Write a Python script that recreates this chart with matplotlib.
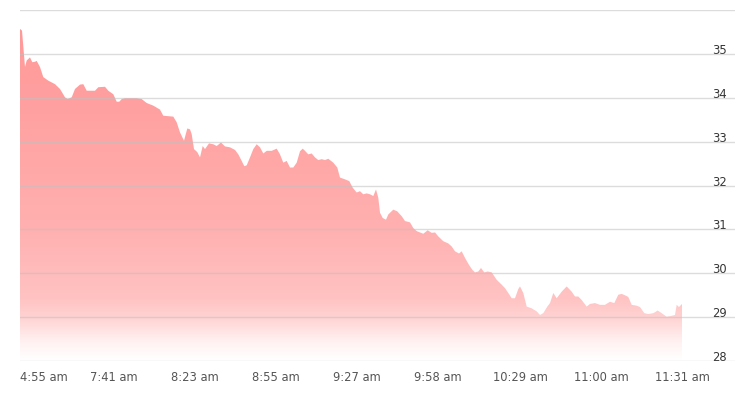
import numpy as np
import matplotlib
matplotlib.use("Agg")
import matplotlib.pyplot as plt
from matplotlib.colors import LinearSegmentedColormap

# relative session position (categorical time index) and price
t = [0, 2, 5, 6.7, 10, 12.3, 15, 16.7, 20, 23.3, 28.3, 35, 40, 45, 47.7, 51.7, 55, 60, 63.3,
     66.7, 75, 78.3, 85, 88.3, 93.3, 96.7, 99.3, 101.7, 105, 116.7, 121.7, 126.7, 133.3,
     140, 143.3, 153.3, 156.7, 160, 164, 167.3, 170, 171.7, 174, 177.3, 180, 182.7, 185,
     189, 193.3, 196.7, 201, 205, 210, 215, 218.3, 221.7, 224.3, 226.7, 230, 233.3, 236.7,
     240, 243.3, 246.7, 251.7, 256.7, 260, 263.3, 266.7, 270, 273.3, 276.7, 280, 282.7,
     285, 288.3, 291.7, 295, 298.3, 301.7, 305, 308.3, 313.3, 317.3, 320, 325, 329.3,
     332.7, 336.7, 340, 343.3, 346.7, 350, 353.3, 356, 358.3, 360, 362.7, 366, 368.3,
     373.3, 377.3, 381.7, 385, 390, 393.3, 396.7, 400, 403.3, 407.7, 411.7, 415, 418.3,
     423.3, 428.3, 431.7, 435, 439, 441.7, 445, 449, 452.3, 455, 458.3, 461, 464.3, 467.7,
     471.7, 476.7, 481.7, 485, 488.3, 491.7, 495, 498.3, 500, 503.3, 506.7, 511.7, 516.7,
     520, 523.3, 527.3, 530, 533.3, 536.7, 541.7, 546.7, 551.7, 555, 558.3, 561.7, 566.7,
     570, 575, 580, 585, 590, 594.3, 598.3, 601.7, 605.7, 608.3, 611.7, 616.7, 620, 624.3,
     628.3, 633.3, 637.7, 641.7, 646.7, 651.7, 655, 656.7, 659, 662]
price = [35.57, 35.53, 34.70, 34.85, 34.92, 34.81, 34.82, 34.84, 34.70, 34.47, 34.39, 34.31,
         34.20, 34.01, 33.97, 34.01, 34.20, 34.30, 34.31, 34.16, 34.16, 34.24, 34.25, 34.16,
         34.08, 33.91, 33.91, 33.97, 33.99, 33.99, 33.97, 33.88, 33.82, 33.73, 33.59, 33.57,
         33.44, 33.21, 33.02, 33.30, 33.28, 33.17, 32.83, 32.76, 32.64, 32.90, 32.83, 32.96,
         32.94, 32.90, 32.98, 32.89, 32.87, 32.81, 32.71, 32.56, 32.44, 32.46, 32.64, 32.83,
         32.94, 32.87, 32.73, 32.79, 32.79, 32.84, 32.71, 32.52, 32.56, 32.41, 32.41, 32.52,
         32.78, 32.84, 32.79, 32.71, 32.73, 32.64, 32.58, 32.60, 32.58, 32.61, 32.52, 32.41,
         32.18, 32.14, 32.10, 31.95, 31.84, 31.87, 31.80, 31.82, 31.80, 31.76, 31.91, 31.72,
         31.38, 31.26, 31.22, 31.34, 31.45, 31.41, 31.30, 31.19, 31.16, 31.03, 30.96, 30.93,
         30.90, 30.98, 30.92, 30.93, 30.84, 30.73, 30.68, 30.61, 30.50, 30.45, 30.50, 30.35,
         30.19, 30.08, 30.02, 30.04, 30.12, 30.02, 30.04, 30.02, 29.85, 29.74, 29.66, 29.55,
         29.43, 29.43, 29.64, 29.70, 29.55, 29.24, 29.20, 29.13, 29.05, 29.09, 29.24, 29.32,
         29.55, 29.43, 29.58, 29.70, 29.58, 29.47, 29.47, 29.39, 29.24, 29.30, 29.32, 29.28,
         29.28, 29.35, 29.32, 29.51, 29.53, 29.49, 29.46, 29.28, 29.26, 29.23, 29.09, 29.07,
         29.09, 29.15, 29.09, 29.01, 29.03, 29.05, 29.28, 29.23, 29.30]

tick_pos = [0, 94, 175, 256, 337, 418, 500, 581, 662]
tick_labels = ["4:55 am", "7:41 am", "8:23 am", "8:55 am", "9:27 am", "9:58 am",
               "10:29 am", "11:00 am", "11:31 am"]
y_ticks = [28, 29, 30, 31, 32, 33, 34, 35]
y_grid = [28, 29, 30, 31, 32, 33, 34, 35, 36]

fig = plt.figure(figsize=(7.53, 4.03), dpi=100)
ax = fig.add_axes([20 / 753, (403 - 361) / 403, 715 / 753, 351 / 403])
ax.set_xlim(0, 715)
ax.set_ylim(28, 36)

# gradient fill
poly = ax.fill_between(t, price, 28, color="none", linewidth=0)
cmap = LinearSegmentedColormap.from_list(
    "g",
    [(0.0, "#ffffff"), (0.06, "#fff0f0"), (0.13, "#ffd2d2"), (0.19, "#ffc2c2"),
     (0.40, "#ffb0b0"), (0.79, "#ff9f9f"), (1.0, "#ff9a9a")])
top = max(price)
grad = np.linspace(0, 1, 512).reshape(-1, 1)
im = ax.imshow(grad, extent=[0, max(t), 28, top], origin="lower", aspect="auto",
               cmap=cmap, zorder=1, interpolation="bilinear")
path = poly.get_paths()[0]
im.set_clip_path(path, transform=ax.transData)

for g in y_grid:
    ax.axhline(g, color="#c0c0c0", alpha=0.55, linewidth=1, zorder=3)

for s in ax.spines.values():
    s.set_visible(False)

ax.set_xticks(tick_pos)
ax.set_xticklabels(tick_labels, fontsize=8.3, color="#555555")
ax.get_xticklabels()[0].set_ha("left")
ax.tick_params(axis="x", length=0, pad=7)

ax.yaxis.tick_right()
ax.set_yticks(y_ticks)
ax.set_yticklabels([str(v) for v in y_ticks], fontsize=8.3, color="#333333")
for lab in ax.get_yticklabels():
    lab.set_ha("right")
    lab.set_va("baseline")
ax.tick_params(axis="y", length=0, pad=-6)

fig.savefig("out.png", dpi=100, facecolor="white")
